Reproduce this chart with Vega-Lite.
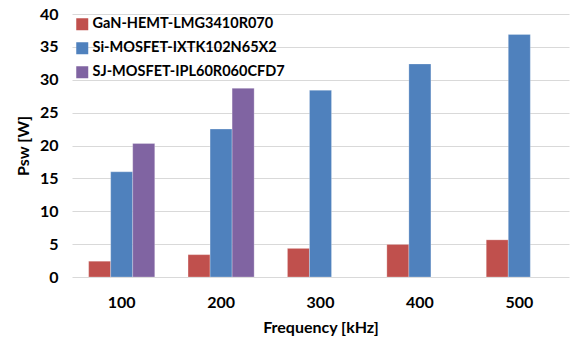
{
  "$schema": "https://vega.github.io/schema/vega-lite/v6.json",
  "width": 497,
  "height": 263,
  "autosize": {"type": "none"},
  "padding": {"left": 72, "top": 14, "right": 3, "bottom": 66},
  "background": "white",
  "config": {
    "font": "Lato",
    "view": {"stroke": null},
    "axis": {"labelFont": "Lato", "titleFont": "Lato", "labelFontWeight": "bold", "titleFontWeight": "bold", "labelColor": "#000", "titleColor": "#000"},
    "legend": {"labelFont": "Lato", "labelFontWeight": "bold", "labelColor": "#000"}
  },
  "data": {
    "values": [
      {"f": "100", "series": "GaN-HEMT-LMG3410R070", "p": 2.4},
      {"f": "100", "series": "Si-MOSFET-IXTK102N65X2", "p": 16.0},
      {"f": "100", "series": "SJ-MOSFET-IPL60R060CFD7", "p": 20.3},
      {"f": "200", "series": "GaN-HEMT-LMG3410R070", "p": 3.4},
      {"f": "200", "series": "Si-MOSFET-IXTK102N65X2", "p": 22.5},
      {"f": "200", "series": "SJ-MOSFET-IPL60R060CFD7", "p": 28.7},
      {"f": "300", "series": "GaN-HEMT-LMG3410R070", "p": 4.35},
      {"f": "300", "series": "Si-MOSFET-IXTK102N65X2", "p": 28.4},
      {"f": "400", "series": "GaN-HEMT-LMG3410R070", "p": 4.95},
      {"f": "400", "series": "Si-MOSFET-IXTK102N65X2", "p": 32.4},
      {"f": "500", "series": "GaN-HEMT-LMG3410R070", "p": 5.65},
      {"f": "500", "series": "Si-MOSFET-IXTK102N65X2", "p": 36.9}
    ]
  },
  "mark": {"type": "bar", "stroke": "white", "strokeWidth": 0.5, "strokeOpacity": 0.5},
  "encoding": {
    "x": {
      "field": "f", "type": "nominal", "sort": null,
      "scale": {"paddingInner": 0.335, "paddingOuter": 0.1675},
      "axis": {"title": "Frequency [kHz]", "labelAngle": 0, "labelFontSize": 16, "titleFontSize": 16, "ticks": false, "domain": false, "labelPadding": 17, "titlePadding": 9}
    },
    "xOffset": {
      "field": "series", "type": "nominal",
      "sort": ["GaN-HEMT-LMG3410R070", "Si-MOSFET-IXTK102N65X2", "SJ-MOSFET-IPL60R060CFD7"],
      "scale": {"domain": ["GaN-HEMT-LMG3410R070", "Si-MOSFET-IXTK102N65X2", "SJ-MOSFET-IPL60R060CFD7"], "paddingInner": 0, "paddingOuter": 0}
    },
    "y": {
      "field": "p", "type": "quantitative",
      "scale": {"domain": [0, 40], "nice": false},
      "axis": {"title": "Psw [W]", "values": [0, 5, 10, 15, 20, 25, 30, 35, 40], "labelFontSize": 16, "titleFontSize": 16, "ticks": false, "domain": false, "labelPadding": 14, "titlePadding": 8, "gridColor": "#d9d9d9", "gridWidth": 1}
    },
    "color": {
      "field": "series", "type": "nominal",
      "scale": {"domain": ["GaN-HEMT-LMG3410R070", "Si-MOSFET-IXTK102N65X2", "SJ-MOSFET-IPL60R060CFD7"], "range": ["#C0504D", "#4F81BD", "#8064A2"]},
      "legend": {"title": null, "orient": "top-left", "offset": 3, "symbolType": "square", "symbolSize": 144, "symbolStrokeWidth": 0, "labelFontSize": 14.5, "labelLimit": 0, "rowPadding": 9, "labelOffset": 3, "padding": 0}
    }
  }
}
